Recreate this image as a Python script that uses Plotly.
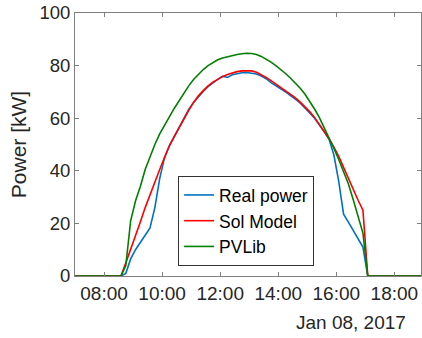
import plotly.graph_objects as go
import pandas as pd

DAY = "2017-01-08"
grid = pd.date_range(f"{DAY} 08:35", f"{DAY} 17:05", freq="10min")
times = [pd.Timestamp(f"{DAY} 07:00")] + list(grid) + [pd.Timestamp(f"{DAY} 18:55")]

real_power = [0,
    0, 1, 6.5, 10, 13, 15.5, 18.3, 26, 37, 45,
    49.5, 53, 56.8, 60.3, 63.3, 66, 68.3, 70.2, 72, 73.5,
    74.8, 76, 75.5, 76.5, 77, 77.3, 77.4, 77.2, 76.8, 76,
    75, 73.5, 72.2, 71.2, 70, 68.8, 67.3, 65.8, 64, 62,
    60, 57.5, 54.8, 52, 46, 36, 23.5, 20.5, 17.5, 14.5,
    11, 0,
    0]
sol_model = [0,
    0, 5, 10, 15, 20.5, 26, 31, 36, 40.5, 45,
    49.5, 53, 56.5, 60, 63, 66, 68.5, 70.5, 72.3, 73.7,
    74.8, 75.8, 76.6, 77.2, 77.7, 78, 78.1, 78, 77.5, 76.6,
    75.5, 74.3, 73, 71.7, 70.5, 69.3, 67.8, 66.2, 64.5, 62.5,
    60.3, 57.7, 55, 52.2, 49, 45.5, 41.3, 37, 32.7, 28.8,
    25, 0,
    0]
pvlib = [0,
    0, 4, 21, 28.5, 34, 40.5, 45.5, 50, 54, 57,
    60.5, 63.7, 66.7, 69.6, 72.3, 74.7, 76.7, 78.5, 80, 81.2,
    82.2, 82.9, 83.4, 83.8, 84.2, 84.5, 84.7, 84.6, 84.2, 83.5,
    82.5, 81.3, 80, 78.6, 77, 75.3, 73.5, 71.5, 69.2, 66.5,
    63.5, 60.2, 56.5, 52.6, 48.5, 44.3, 40, 35, 29, 22.8,
    16.3, 0,
    0]

series = [
    ("Real power", real_power, "#0072BD"),
    ("Sol Model", sol_model, "#FF0000"),
    ("PVLib", pvlib, "#008000"),
]

FONT = "Liberation Sans, Arial, sans-serif"
TXT = "#262626"
AX = "#808080"

fig = go.Figure()
for name, vals, col in series:
    fig.add_trace(go.Scatter(x=times, y=vals, name=name, mode="lines",
                             line=dict(color=col, width=1.6)))

fig.update_layout(
    width=422, height=338,
    margin=dict(l=75, r=1, t=13, b=62),
    paper_bgcolor="white", plot_bgcolor="white",
    font=dict(family=FONT, size=19, color=TXT),
    showlegend=True,
    legend=dict(x=0.298, y=0.38, xanchor="left", yanchor="top",
                bgcolor="white", bordercolor="#333333", borderwidth=1,
                font=dict(size=17.5, color="black"),
                itemwidth=30, tracegroupgap=0),
    xaxis=dict(type="date",
               range=[f"{DAY} 07:00", f"{DAY} 18:55"],
               tick0=f"{DAY} 08:00", dtick=2 * 3600 * 1000,
               tickformat="%H:%M",
               ticks="inside", ticklen=4, tickcolor=AX,
               showline=True, linecolor=AX, linewidth=1, mirror="ticks",
               showgrid=False, zeroline=False,
               tickfont=dict(size=19, color=TXT)),
    yaxis=dict(range=[0, 100], dtick=20,
               ticks="inside", ticklen=4, tickcolor=AX,
               showline=True, linecolor=AX, linewidth=1, mirror="ticks",
               showgrid=False, zeroline=False,
               tickfont=dict(size=18.5, color=TXT),
               title=dict(text="Power [kW]", font=dict(size=21, color=TXT), standoff=7)),
    annotations=[dict(text="Jan 08, 2017", xref="paper", yref="paper",
                      x=0.962, y=-0.175, xanchor="right", yanchor="middle",
                      showarrow=False, font=dict(size=19, color=TXT))],
)

fig.write_html("out.html")
